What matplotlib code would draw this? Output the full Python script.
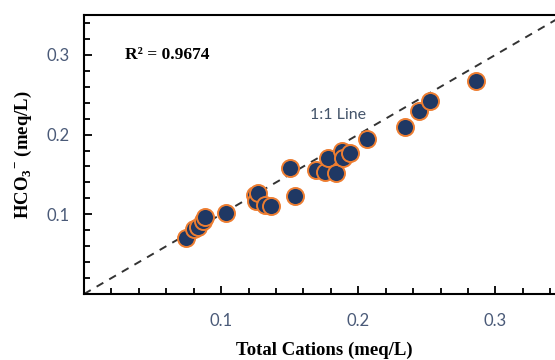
import matplotlib
matplotlib.use('Agg')
import matplotlib.pyplot as plt
from matplotlib.ticker import MultipleLocator

# data
total_cations = [0.0745, 0.080, 0.083, 0.087, 0.088, 0.1036, 0.125, 0.1255, 0.127,
                 0.132, 0.136, 0.150, 0.154, 0.169, 0.176, 0.178, 0.184, 0.188,
                 0.189, 0.194, 0.206, 0.234, 0.244, 0.252, 0.286]
hco3 = [0.0704, 0.082, 0.084, 0.091, 0.096, 0.102, 0.1245, 0.117, 0.127,
        0.112, 0.111, 0.158, 0.123, 0.156, 0.153, 0.171, 0.152, 0.179,
        0.170, 0.177, 0.195, 0.209, 0.229, 0.242, 0.267]
r2_text = 'R² = 0.9674'
line_label = '1:1 Line'
ticks = [0.1, 0.2, 0.3]

plt.rcParams['mathtext.fontset'] = 'custom'
plt.rcParams['mathtext.rm'] = 'Liberation Serif:bold'
plt.rcParams['mathtext.bf'] = 'Liberation Serif:bold'

fig = plt.figure(figsize=(5.55, 3.6), dpi=100)
ax = fig.add_axes([84 / 555, 66 / 360, 480 / 555, 279 / 360])

ax.plot([0, 0.4], [0, 0.4], linestyle=(0, (4, 3.5)), color='#333333', lw=1.4, zorder=1)
ax.scatter(total_cations, hco3, s=150, color='#1F3864', edgecolors='#ED7D31',
           linewidths=1.4, zorder=3)

ax.text(0.030, 0.300, r2_text, fontsize=12.5, fontweight='bold', family='Liberation Serif',
        va='center', ha='left')
ax.text(0.185, 0.224, line_label, fontsize=11.5, family='Lato', color='#44546A',
        va='center', ha='center')

ax.set_xlim(0, 0.35)
ax.set_ylim(0, 0.35)
ax.set_xticks(ticks)
ax.set_yticks(ticks)
ax.set_xticklabels([str(t) for t in ticks])
ax.set_yticklabels([str(t) for t in ticks])
ax.xaxis.set_minor_locator(MultipleLocator(0.02))
ax.yaxis.set_minor_locator(MultipleLocator(0.02))
ax.tick_params(which='both', direction='in', width=1.3, colors='black',
               labelcolor='#4A5A78', labelsize=12)
ax.tick_params(which='major', length=6)
ax.tick_params(which='minor', length=4)
ax.tick_params(axis='x', pad=14)
ax.tick_params(axis='y', pad=10)
for lab in ax.get_xticklabels() + ax.get_yticklabels():
    lab.set_family('Lato')

for sp in ax.spines.values():
    sp.set_linewidth(1.5)

ax.set_xlabel('Total Cations (meq/L)', fontsize=13.5, fontweight='bold',
              family='Liberation Serif', labelpad=9)
ax.set_ylabel(r'HCO$_3$$^{-}$ (meq/L)', fontsize=13.5, fontweight='bold',
              family='Liberation Serif', labelpad=9)

fig.savefig('out.png', dpi=100)
